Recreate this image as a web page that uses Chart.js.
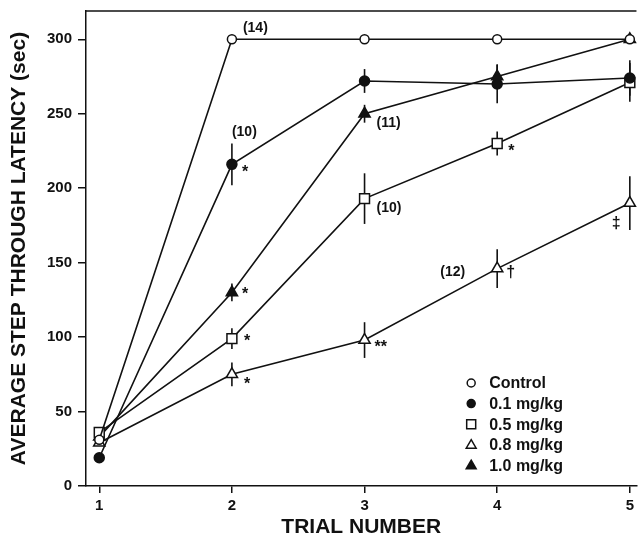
<!DOCTYPE html>
<html>
<head>
<meta charset="utf-8">
<script src="https://cdn.jsdelivr.net/npm/chart.js@4"></script>
<style>
  html, body { margin: 0; padding: 0; background: #fff; }
  #wrap { width: 638px; height: 541px; position: relative; }
</style>
</head>
<body>
<div id="wrap"><canvas id="chart"></canvas></div>
<script>
// ── Data ─────────────────────────────────────────────────────
const trials    = [1, 2, 3, 4, 5];
const labels    = ['Control', '0.1 mg/kg', '0.5 mg/kg', '0.8 mg/kg', '1.0 mg/kg'];
const control   = [31, 300, 300, 300, 300];
const dose01    = [19, 216, 272, 270, 274];
const dose05    = [36, 99, 193, 230, 271];
const dose08    = [29, 75, 98, 146, 190];
const dose10    = [33, 130, 250, 275, 300];
const controlErr = [0, 0, 0, 0, 0];
const dose01Err  = [0, 14, 8, 13, 12];
const dose05Err  = [0, 7, 17, 8, 13];
const dose08Err  = [0, 8, 12, 13, 18];
const dose10Err  = [0, 6, 6, 8, 0];
const yTicks = [0, 50, 100, 150, 200, 250, 300];

// group sizes and significance marks: [dataset index, trial index, text]
const notes = [
  [0, 1, '(14)'], [1, 1, '(10)'], [4, 2, '(11)'], [2, 2, '(10)'], [3, 3, '(12)'],
  [1, 1, '*'], [4, 1, '*'], [2, 1, '*'], [3, 1, '*'], [2, 3, '*'],
  [3, 2, '**'], [3, 3, '†'], [3, 4, '‡']
];
// where each note sits relative to its point (px)
const noteOffsets = [
  [11, -11, 'left'], [0, -32, 'left'], [12, 9, 'left'], [12, 10, 'left'], [-32, 4, 'right'],
  [10, 8, 'left'], [10, 2, 'left'], [12, 3, 'left'], [12, 10, 'left'], [11, 8, 'left'],
  [10, 8, 'left'], [9, 4, 'left'], [-18, 21, 'left']
];

const INK = '#111';
const FONT = "'Liberation Sans', Arial, sans-serif";

const series = [
  { label: labels[0], data: control, err: controlErr, style: 'circle',   fill: '#fff', r: 4.5 },
  { label: labels[1], data: dose01,  err: dose01Err,  style: 'circle',   fill: INK,    r: 5 },
  { label: labels[2], data: dose05,  err: dose05Err,  style: 'rect',     fill: '#fff', r: 7 },
  { label: labels[3], data: dose08,  err: dose08Err,  style: 'triangle', fill: '#fff', r: 6.5 },
  { label: labels[4], data: dose10,  err: dose10Err,  style: 'triangle', fill: INK,    r: 6.5 }
];

// ── Helpers ───────────────────────────────────────────────────
function marker(ctx, style, x, y, r, fill) {
  ctx.save();
  ctx.beginPath();
  if (style === 'circle') {
    ctx.arc(x, y, r, 0, Math.PI * 2);
  } else if (style === 'rect') {
    ctx.rect(x - r, y - r, r * 2, r * 2);
  } else {
    ctx.moveTo(x, y - r * 1.15);
    ctx.lineTo(x + r * 1.1, y + r * 0.75);
    ctx.lineTo(x - r * 1.1, y + r * 0.75);
    ctx.closePath();
  }
  ctx.fillStyle = fill;
  ctx.fill();
  ctx.lineWidth = 1.5;
  ctx.strokeStyle = INK;
  ctx.stroke();
  ctx.restore();
}

// ── Plugins ───────────────────────────────────────────────────
const errorBars = {
  id: 'errorBars',
  beforeDatasetsDraw(chart) {
    const { ctx, scales: { x, y } } = chart;
    ctx.save();
    ctx.strokeStyle = INK;
    ctx.lineWidth = 1.6;
    series.forEach(s => {
      s.data.forEach((v, i) => {
        const e = s.err[i];
        if (!e) return;
        const px = x.getPixelForValue(trials[i]);
        ctx.beginPath();
        ctx.moveTo(px, y.getPixelForValue(v - e));
        ctx.lineTo(px, y.getPixelForValue(v + e));
        ctx.stroke();
      });
    });
    ctx.restore();
  }
};

const frameAndNotes = {
  id: 'frameAndNotes',
  afterDraw(chart) {
    const { ctx, chartArea: a, scales: { x, y } } = chart;
    ctx.save();
    // top frame line
    ctx.strokeStyle = INK;
    ctx.lineWidth = 1.5;
    ctx.beginPath();
    ctx.moveTo(a.left, a.top);
    ctx.lineTo(a.right, a.top);
    ctx.stroke();

    // notes
    ctx.fillStyle = INK;
    ctx.textBaseline = 'middle';
    notes.forEach(([si, ti, text], k) => {
      const [dx, dy, align] = noteOffsets[k];
      const px = x.getPixelForValue(trials[ti]);
      const py = y.getPixelForValue(series[si].data[ti]);
      ctx.font = text.startsWith('(') ? `bold 14px ${FONT}` : `bold 16px ${FONT}`;
      ctx.textAlign = align;
      ctx.fillText(text, px + dx, py + dy);
    });

    // legend inside plot, bottom right
    const lx = x.getPixelForValue(4) - 26, ty = a.bottom - 103;
    ctx.font = `bold 16px ${FONT}`;
    ctx.textAlign = 'left';
    series.forEach((s, i) => {
      const yy = ty + i * 20.6;
      marker(ctx, s.style, lx, yy, s.style === 'circle' ? 4 : 4.5, s.fill);
      ctx.fillStyle = INK;
      ctx.fillText(s.label, lx + 18, yy + 1);
    });
    ctx.restore();
  }
};

// ── Chart ─────────────────────────────────────────────────────
new Chart(document.getElementById('chart'), {
  type: 'line',
  data: {
    datasets: series.map(s => ({
      label: s.label,
      data: s.data.map((v, i) => ({ x: trials[i], y: v })),
      borderColor: INK,
      borderWidth: 1.6,
      tension: 0,
      pointStyle: s.style,
      pointRadius: s.r,
      pointBorderWidth: 1.5,
      pointBorderColor: INK,
      pointBackgroundColor: s.fill,
      clip: false
    }))
  },
  options: {
    responsive: true,
    maintainAspectRatio: false,
    animation: false,
    layout: { autoPadding: false, padding: { top: 11, right: 0, left: 0, bottom: 0 } },
    plugins: { legend: { display: false }, tooltip: { enabled: false } },
    scales: {
      x: {
        type: 'linear',
        min: 0.9,
        max: 5.05,
        afterBuildTicks: sc => { sc.ticks = trials.map(v => ({ value: v })); },
        afterFit: sc => { sc.height = 55; },
        ticks: { color: INK, padding: 4, font: { family: FONT, size: 15, weight: 'bold' } },
        grid: { drawOnChartArea: false, drawTicks: true, tickLength: 7, color: INK, lineWidth: 1.5 },
        border: { color: INK, width: 1.5 },
        title: {
          display: true, text: 'TRIAL NUMBER', color: INK,
          font: { family: FONT, size: 21, weight: 'bold' },
          padding: { top: 0, bottom: 1.5 }
        }
      },
      y: {
        min: 0,
        max: 319,
        afterBuildTicks: sc => { sc.ticks = yTicks.map(v => ({ value: v })); },
        afterFit: sc => { sc.width = 86; sc.paddingTop = 0; sc.paddingBottom = 0; },
        ticks: { color: INK, padding: 6, font: { family: FONT, size: 15, weight: 'bold' } },
        grid: { drawOnChartArea: false, drawTicks: true, tickLength: 8, color: INK, lineWidth: 1.5 },
        border: { color: INK, width: 1.5 },
        title: {
          display: true, text: 'AVERAGE STEP THROUGH LATENCY (sec)', color: INK,
          font: { family: FONT, size: 21, weight: 'bold' },
          padding: { top: 7, bottom: 0 }
        }
      }
    }
  },
  plugins: [errorBars, frameAndNotes]
});
</script>
</body>
</html>
